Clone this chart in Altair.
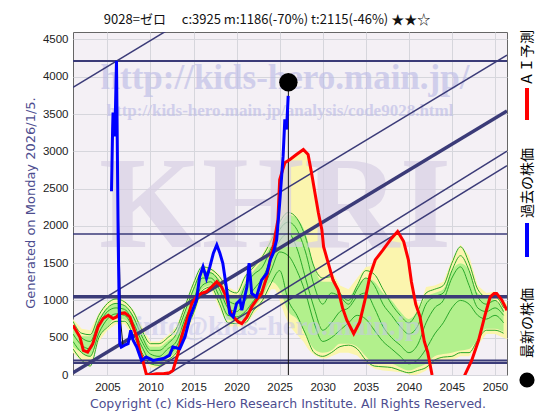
import altair as alt
import pandas as pd

# ---------------- data ----------------
# AI prediction (red)
red_x = [2001.0, 2001.8, 2002.2, 2002.7, 2003.3, 2003.9, 2004.5, 2005.1, 2005.65, 2006.05,
         2006.4, 2007.0, 2007.6, 2008.0, 2008.4, 2008.75, 2009.1, 2009.5, 2009.9, 2010.7,
         2011.5, 2012.2, 2012.6, 2013.2, 2013.6, 2014.2, 2014.8, 2015.35, 2015.9, 2016.5,
         2017.1, 2017.7, 2018.25, 2018.8, 2019.2, 2019.6, 2020.2, 2020.6, 2021.2, 2021.75,
         2022.3, 2022.9, 2023.5, 2023.9, 2024.3, 2024.8, 2025.0, 2025.6, 2026.2, 2026.95,
         2027.75, 2028.3, 2028.7, 2029.1, 2029.5, 2029.9, 2030.1, 2030.65, 2031.2, 2031.8,
         2032.3, 2032.8, 2033.4, 2033.6, 2034.3, 2034.9, 2035.5, 2036.1, 2037.0, 2038.0,
         2038.7, 2039.4, 2039.95, 2040.3, 2040.8, 2041.3, 2041.8, 2042.2, 2042.7, 2043.5,
         2045.0, 2046.0, 2046.5, 2047.3, 2048.1, 2048.9, 2049.45, 2049.9, 2050.2, 2050.8, 2051.4]
red_y = [667, 510, 330, 307, 420, 644, 757, 802, 757, 779,
         825, 833, 779, 644, 510, 330, 195, 16, 0, 16,
         16, 30, 60, 286, 510, 734, 959, 1048, 1094, 1116,
         1183, 1251, 1183, 1048, 869, 779, 712, 690, 779, 914,
         1004, 1094, 1318, 1543, 1750, 2082, 2620, 2846, 2890, 2957,
         3025, 2957, 2711, 2441, 2172, 1947, 1722, 1498, 1273, 1139,
         900, 734, 600, 555, 712, 1004, 1340, 1543, 1677, 1835,
         1924, 1789, 1543, 1250, 950, 780, 450, 300, 0, -400,
         -700, -200, 0, 195, 465, 825, 1048, 1094, 1094, 1004, 869]

# past stock price (blue)
blue_x = [2005.47, 2005.6, 2005.65, 2005.8, 2005.9, 2006.05, 2006.25, 2006.43, 2006.6, 2007.0,
          2007.4, 2007.7, 2007.98, 2008.4, 2008.95, 2009.5, 2010.3, 2011.5, 2012.2, 2012.6,
          2013.4, 2014.0, 2014.6, 2015.35, 2015.7, 2016.1, 2016.5, 2016.9, 2017.3, 2017.7,
          2018.06, 2018.4, 2018.8, 2019.2, 2019.6, 2020.0, 2020.4, 2020.6, 2021.2, 2021.45,
          2021.75, 2022.3, 2022.9, 2023.5, 2023.9, 2024.25, 2024.65, 2025.0, 2025.4, 2025.6,
          2025.8, 2025.99]
blue_y = [2463, 3300, 3520, 3200, 3400, 4215, 1800, 424, 375, 400,
          420, 600, 465, 375, 195, 240, 195, 220, 263, 375,
          353, 510, 780, 1004, 1318, 1453, 1296, 1453, 1633, 1745,
          1633, 1498, 1183, 825, 779, 959, 1004, 869, 1183, 1500,
          1094, 1048, 1273, 1363, 1543, 1633, 1812, 2300, 2935, 3429,
          3294, 3743]

# thin black price trace during the 2006 crash
black_x = [2006.1, 2006.3, 2006.55, 2006.8]
black_y = [3300, 2000, 700, 400]

# scenario bands (yearly)
band_years = list(range(2001, 2052))
lg_hi = [650, 520, 520, 760, 900, 960, 930, 800, 580, 380,
         380, 460, 560, 850, 1180, 1400, 1380, 1280, 1100, 1050,
         1250, 1400, 1550, 1750, 2000, 2150, 2100, 1900, 1450, 1250,
         1250, 1100, 1050, 1200, 1300, 1250, 1100, 1000, 850, 750,
         850, 1050, 1100, 1150, 1400, 1500, 1400, 1100, 1050, 1000, 880]
lg_lo = [380, 300, 250, 520, 650, 760, 740, 580, 330, 180,
         160, 230, 320, 580, 850, 1150, 1200, 1000, 750, 720,
         750, 900, 1050, 1250, 1150, 850, 750, 550, 350, 300,
         330, 420, 420, 380, 250, 150, 150, 150, 100, 60,
         100, 150, 250, 280, 300, 330, 350, 480, 620, 620, 580]

# outer envelope (yellow)
yel_x = [2001, 2002, 2003, 2004, 2005, 2006, 2007, 2008, 2009, 2010,
         2011, 2012, 2013, 2014, 2015, 2016, 2017, 2018, 2019, 2020,
         2021, 2022, 2023, 2024, 2024.5, 2025.0, 2025.6, 2026.2, 2026.95, 2027.75,
         2028.3, 2028.7, 2029.1, 2029.5, 2029.9, 2030.4, 2031, 2032, 2033, 2034,
         2035, 2035.5, 2036.1, 2037.0, 2038.0, 2038.7, 2039.4, 2039.95, 2040.3, 2040.8,
         2041.3, 2042, 2043, 2044, 2045, 2046, 2047, 2048, 2049, 2050, 2051, 2051.4]
yel_hi = [750, 620, 600, 830, 980, 1050, 1000, 880, 650, 450,
          450, 530, 650, 950, 1260, 1480, 1450, 1350, 1180, 1120,
          1350, 1480, 1620, 1850, 1950, 2620, 2846, 2890, 2957, 3025,
          2957, 2711, 2441, 2172, 1947, 1600, 1400, 1200, 1150, 1300,
          1450, 1460, 1543, 1677, 1835, 1924, 1789, 1543, 1250, 1000,
          950, 1180, 1200, 1250, 1550, 1750, 1600, 1200, 1100, 1120, 1000, 950]
yel_lo = [300, 180, 100, 450, 600, 680, 680, 500, 250, 100,
          100, 150, 250, 500, 780, 1100, 1150, 900, 650, 650,
          650, 820, 950, 1150, 1150, 1000, 800, 650, 550, 450,
          350, 300, 260, 240, 220, 220, 250, 300, 300, 260,
          150, 120, 80, 60, 50, 40, 30, 10, 0, 0,
          20, 60, 150, 200, 200, 250, 250, 400, 550, 550, 500, 480]

# individual scenario lines (green)
g1 = [720, 560, 540, 800, 960, 1020, 980, 850, 600, 420,
      420, 500, 620, 920, 1230, 1450, 1420, 1320, 1150, 1100,
      1320, 1450, 1590, 1800, 2050, 2180, 2100, 1850, 1450, 1300,
      1320, 1100, 1000, 1200, 1400, 1350, 1150, 950, 800, 700,
      850, 1100, 1150, 1200, 1500, 1720, 1500, 1150, 1050, 1050, 900]
g2 = [350, 200, 120, 500, 640, 720, 720, 540, 300, 150,
      130, 200, 300, 560, 830, 1130, 1180, 960, 700, 690,
      700, 870, 1000, 1230, 1400, 1000, 800, 550, 300, 250,
      300, 380, 400, 350, 200, 120, 110, 100, 60, 30,
      60, 100, 200, 240, 250, 300, 300, 470, 600, 600, 560]
g3 = [550, 400, 350, 650, 850, 900, 880, 700, 450, 280,
      250, 350, 450, 750, 1000, 1300, 1300, 1150, 900, 850,
      1000, 1150, 1300, 1550, 1800, 1900, 1700, 1300, 900, 600,
      700, 850, 900, 1050, 1100, 900, 650, 500, 400, 300,
      400, 700, 900, 1000, 1300, 1450, 1200, 900, 850, 900, 800]
g4 = [450, 300, 250, 560, 750, 820, 800, 620, 380, 200,
      200, 270, 380, 650, 920, 1200, 1250, 1050, 800, 780,
      850, 1000, 1150, 1400, 1650, 1600, 1400, 1100, 700, 450,
      500, 600, 700, 800, 750, 600, 450, 350, 250, 150,
      200, 350, 550, 700, 900, 1000, 950, 800, 750, 800, 700]
g5 = [650, 500, 450, 720, 900, 960, 930, 780, 520, 330,
      330, 420, 550, 850, 1150, 1380, 1370, 1250, 1000, 950,
      1200, 1350, 1450, 1700, 1950, 2050, 1950, 1650, 1200, 950,
      1100, 1050, 950, 1150, 1300, 1200, 950, 800, 650, 550,
      650, 950, 1050, 1100, 1400, 1600, 1400, 1050, 950, 1000, 850]

# support / resistance lines
hline_vals = [4210, 1890, 1050, 195, 160]
hline_w = [2, 1.5, 3.5, 2, 2]
diag_y_start = [3856, 775, 30, -613, -775]   # value at 2001.0
diag_y_end = [7384, 4290, 3541, 3002, 2809]  # value at 2051.4
diag_w = [1.5, 1.5, 3.5, 1.5, 1.5]

latest_year = 2026.01
latest_price = 3925

x_ticks = [2005, 2010, 2015, 2020, 2025, 2030, 2035, 2040, 2045, 2050]
y_ticks = [0, 500, 1000, 1500, 2000, 2500, 3000, 3500, 4000, 4500]

title_text = "9028=ゼロ　 c:3925  m:1186(-70%)  t:2115(-46%)  ★★☆"
ytitle_text = "Generated on Monday 2026/1/5."
copyright_text = "Copyright (c) Kids-Hero Research Institute. All Rights Reserved."

# ---------------- chart ----------------
X0, X1 = 2001.0, 2051.4
Y0, Y1 = 0, 4600
W, H = 434, 343
NAVY = "#3b3b78"

xs = alt.Scale(domain=[X0, X1], nice=False, zero=False)
ys = alt.Scale(domain=[Y0, Y1], nice=False, zero=False)

xaxis = alt.Axis(values=x_ticks, format="d", grid=True, title=None, ticks=False,
                 domain=False, labelPadding=6)
yaxis = alt.Axis(values=y_ticks, format="d", grid=True, title=None, ticks=False,
                 domain=False, labelPadding=5)


def X(f):
    return alt.X(f, scale=xs, axis=xaxis)


def Y(f):
    return alt.Y(f, scale=ys, axis=yaxis)


df_yel = pd.DataFrame({"x": yel_x, "hi": yel_hi, "lo": yel_lo})
yellow = alt.Chart(df_yel).mark_area(color="#fbf5ae", clip=True).encode(
    x=X("x:Q"), y=Y("hi:Q"), y2="lo:Q",
)

df_lg = pd.DataFrame({"x": band_years, "hi": lg_hi, "lo": lg_lo})
lgreen = alt.Chart(df_lg).mark_area(color="#b2f08c", clip=True, interpolate="monotone").encode(
    x=X("x:Q"), y=Y("hi:Q"), y2="lo:Q",
)

rows = []
for name, vals in [("g1", g1), ("g2", g2), ("g3", g3), ("g4", g4), ("g5", g5)]:
    for yr, v in zip(band_years, vals):
        rows.append({"x": yr, "v": v, "s": name})
df_g = pd.DataFrame(rows)
glines = alt.Chart(df_g).mark_line(color="#2aa82a", strokeWidth=1, clip=True,
                                   interpolate="monotone").encode(
    x=X("x:Q"), y=Y("v:Q"), detail="s:N",
)


def wm(text, x, y, size, color, opacity=0.75):
    return alt.Chart(pd.DataFrame({"t": [text]})).mark_text(
        font="Liberation Serif", fontWeight="bold", fontSize=size, color=color,
        opacity=opacity, align="center", baseline="alphabetic",
    ).encode(text="t:N", x=alt.value(x), y=alt.value(y))


watermarks = [
    wm("KHRI", 202, 215, 132, "#d8d0e4", 0.7),
    wm("http://kids-hero.main.jp/", 212, 57, 35, "#bdbde6", 0.65),
    wm("http://kids-hero.main.jp/analysis/code9028.html", 207, 84, 17, "#bdbde6", 0.65),
    wm("info@kids-hero.main.jp", 205, 303, 28, "#c6c6ea", 0.55),
]

df_h = pd.DataFrame({"y": hline_vals, "w": hline_w})
hlines = alt.Chart(df_h).mark_rule(color=NAVY, clip=True).encode(
    y=Y("y:Q"),
    strokeWidth=alt.StrokeWidth("w:Q", scale=None, legend=None),
)

df_d = pd.DataFrame({"x": [X0] * len(diag_y_start), "x2": [X1] * len(diag_y_start),
                     "y": diag_y_start, "y2": diag_y_end, "w": diag_w})
diags = alt.Chart(df_d).mark_rule(color=NAVY, clip=True).encode(
    x=X("x:Q"), x2="x2:Q", y=Y("y:Q"), y2="y2:Q",
    strokeWidth=alt.StrokeWidth("w:Q", scale=None, legend=None),
)

df_v = pd.DataFrame({"x": [latest_year], "y": [0], "y2": [latest_price]})
vline = alt.Chart(df_v).mark_rule(color="#111111", strokeWidth=1).encode(
    x=X("x:Q"), y=Y("y:Q"), y2="y2:Q",
)

df_r = pd.DataFrame({"x": red_x, "y": red_y})
red = alt.Chart(df_r).mark_line(color="#ff0000", strokeWidth=3, clip=True).encode(
    x=X("x:Q"), y=Y("y:Q"),
)

df_k = pd.DataFrame({"x": black_x, "y": black_y})
black = alt.Chart(df_k).mark_line(color="#111111", strokeWidth=1, clip=True).encode(
    x=X("x:Q"), y=Y("y:Q"),
)

df_b = pd.DataFrame({"x": blue_x, "y": blue_y})
blue = alt.Chart(df_b).mark_line(color="#0000ff", strokeWidth=3, clip=True).encode(
    x=X("x:Q"), y=Y("y:Q"),
)

df_dot = pd.DataFrame({"x": [latest_year], "y": [latest_price]})
dot = alt.Chart(df_dot).mark_circle(color="#000000", size=340, opacity=1).encode(
    x=X("x:Q"), y=Y("y:Q"),
)


def label(text, x, y, size, color, font, angle=0):
    kw = dict(font=font, fontSize=size, color=color, align="center", baseline="middle")
    if angle:
        kw["angle"] = angle
    return alt.Chart(pd.DataFrame({"t": [text]})).mark_text(**kw).encode(
        text="t:N", x=alt.value(x), y=alt.value(y))


title = label(title_text, 194, -12, 13, "#111111", "Noto Sans CJK JP")
ytitle = label(ytitle_text, -42, 171, 13, "#4d4d8f", "DejaVu Sans", 270)
copyright = label(copyright_text, 215, 372, 12.5, "#4d4d8f", "DejaVu Sans")

JP = "Noto Sans CJK JP"
leg_dot = alt.Chart(pd.DataFrame({"a": [1]})).mark_circle(color="#000000", size=230, opacity=1).encode(
    x=alt.value(454), y=alt.value(348))
leg_t1 = label("最新の株価", 455, 291, 14, "#000000", JP, 270)
leg_blue = alt.Chart(pd.DataFrame({"a": [1]})).mark_rule(color="#0000ff", strokeWidth=4).encode(
    x=alt.value(454), y=alt.value(191), y2=alt.value(225))
leg_t2 = label("過去の株価", 455, 151, 14, "#000000", JP, 270)
leg_red = alt.Chart(pd.DataFrame({"a": [1]})).mark_rule(color="#ff0000", strokeWidth=4).encode(
    x=alt.value(454), y=alt.value(56), y2=alt.value(88))
leg_t3 = label("ＡＩ予測", 455, 26, 14, "#000000", JP, 270)

chart = alt.layer(
    yellow, lgreen, glines, *watermarks, hlines, diags, vline, red, black, blue, dot,
    title, ytitle, copyright, leg_dot, leg_t1, leg_blue, leg_t2, leg_red, leg_t3,
).properties(
    width=W, height=H,
    autosize=alt.AutoSizeParams(type="none"),
    padding={"left": 65, "top": 24, "right": 45, "bottom": 37},
    background="#ffffff",
).configure_view(
    fill="#f4f0f5", stroke="#666666", strokeWidth=1,
).configure_axis(
    labelFont="Liberation Sans", labelFontSize=11.5, labelColor="#222222",
    gridColor="#d6d6dc", gridWidth=1,
)

chart.save("out.html", embed_options={"renderer": "svg", "actions": False})
